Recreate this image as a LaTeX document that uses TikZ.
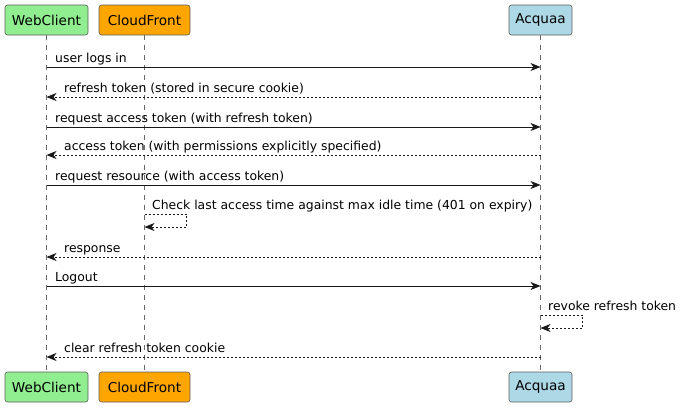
\documentclass[tikz,border=0pt]{standalone}
\usepackage{fontspec}
\setmainfont{DejaVu Sans}
\usetikzlibrary{arrows.meta}
\definecolor{wcgreen}{HTML}{90EE90}
\definecolor{cforange}{HTML}{FFA500}
\definecolor{acblue}{HTML}{ADD8E6}
\definecolor{umlline}{HTML}{181818}
\begin{document}
\begin{tikzpicture}[x=1pt,y=-1pt]
\tikzstyle{actor}=[draw=umlline!70,rounded corners=2.5pt,minimum height=30pt,inner sep=0pt,line width=.6pt,font=\fontsize{13.6}{16}\selectfont]
\tikzstyle{life}=[draw=umlline!65,dash pattern=on 5pt off 5pt,line width=.5pt]
\tikzstyle{msg}=[-{Stealth[length=10pt,width=8pt,inset=3pt]},line width=.8pt,draw=umlline]
\tikzstyle{reply}=[msg,dash pattern=on 2pt off 2pt]
\tikzstyle{txt}=[anchor=base west,inner sep=0pt,font=\fontsize{12.4}{14}\selectfont]
    \useasboundingbox (0,0) rectangle (684,410);
    % participants
    \node[actor,fill=wcgreen,minimum width=83pt] (wctop) at (46.5,20) {WebClient};
    \node[actor,fill=cforange,minimum width=91pt] (cftop) at (144.5,20) {CloudFront};
    \node[actor,fill=acblue,minimum width=63pt] (actop) at (540.5,20) {Acquaa};
    \node[actor,fill=wcgreen,minimum width=83pt] (wcbot) at (46.5,387) {WebClient};
    \node[actor,fill=cforange,minimum width=91pt] (cfbot) at (144.5,387) {CloudFront};
    \node[actor,fill=acblue,minimum width=63pt] (acbot) at (540.5,387) {Acquaa};
    \draw[life] (wctop) -- (wcbot);
    \draw[life] (cftop) -- (cfbot);
    \draw[life] (actop) -- (acbot);
    % messages
    \draw[msg] (wctop |- 0,67) -- (actop |- 0,67);
    \node[txt] (m1) at (55,62.5) {user logs in};
    \draw[reply] (actop |- 0,97) -- (wctop |- 0,97);
    \node[txt] (m2) at (64,92) {refresh token (stored in secure cookie)};
    \draw[msg] (wctop |- 0,127) -- (actop |- 0,127);
    \node[txt] (m3) at (55,122) {request access token (with refresh token)};
    \draw[reply] (actop |- 0,155) -- (wctop |- 0,155);
    \node[txt] (m4) at (64,150.5) {access token (with permissions explicitly specified)};
    \draw[msg] (wctop |- 0,185) -- (actop |- 0,185);
    \node[txt] (m5) at (55,180) {request resource (with access token)};
    \draw[reply] (cftop |- 0,214) -- ++(42,0) |- (cftop |- 0,227);
    \node[txt] (m6) at (152,209) {Check last access time against max idle time (401 on expiry)};
    \draw[reply] (actop |- 0,257) -- (wctop |- 0,257);
    \node[txt] (m7) at (64,252) {response};
    \draw[msg] (wctop |- 0,286) -- (actop |- 0,286);
    \node[txt] (m8) at (55,281) {Logout};
    \draw[reply] (actop |- 0,315) -- ++(42,0) |- (actop |- 0,328);
    \node[txt] (m9) at (548,310) {revoke refresh token};
    \draw[reply] (actop |- 0,357) -- (wctop |- 0,357);
    \node[txt] (m10) at (64,352) {clear refresh token cookie};
\end{tikzpicture}
\end{document}
